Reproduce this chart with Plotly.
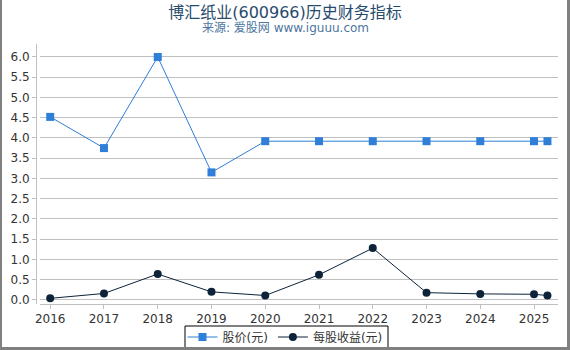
import plotly.graph_objects as go

years = [2016, 2017, 2018, 2019, 2020, 2021, 2022, 2023, 2024, 2025, 2025.25]
tick_years = [2016, 2017, 2018, 2019, 2020, 2021, 2022, 2023, 2024, 2025]
price = [4.52, 3.75, 6.00, 3.15, 3.92, 3.92, 3.92, 3.92, 3.92, 3.92, 3.92]
eps = [0.04, 0.16, 0.64, 0.20, 0.11, 0.62, 1.28, 0.18, 0.15, 0.14, 0.11]
y_ticks = [0.0, 0.5, 1.0, 1.5, 2.0, 2.5, 3.0, 3.5, 4.0, 4.5, 5.0, 5.5, 6.0]

FONT = "DejaVu Sans, Noto Sans CJK SC, sans-serif"

fig = go.Figure()
fig.add_trace(go.Scatter(
    x=years, y=price, name="股价(元)", mode="lines+markers",
    line=dict(color="#2f7ed8", width=1),
    marker=dict(symbol="square", size=8, color="#2f7ed8"),
))
fig.add_trace(go.Scatter(
    x=years, y=eps, name="每股收益(元)", mode="lines+markers",
    line=dict(color="#0d233a", width=1),
    marker=dict(symbol="circle", size=8, color="#0d233a"),
))

L, R, T, B = 36, 12, 44, 46
W, H = 570, 350
pw = W - L - R
ph = H - T - B

def px(x):
    return (x - L) / pw

def py(y):
    return (H - B - y) / ph

fig.update_layout(
    width=W, height=H,
    margin=dict(l=L, r=R, t=T, b=B, autoexpand=False),
    paper_bgcolor="white", plot_bgcolor="white",
    font=dict(family=FONT, size=12, color="#333333"),
    title=dict(text="博汇纸业(600966)历史财务指标", x=0.5, xref="container",
               y=1 - 12 / H, yref="container", yanchor="middle", xanchor="center",
               font=dict(size=16, color="#274b6d", family=FONT)),
    showlegend=True,
    legend=dict(orientation="h", x=px(285), xanchor="center", y=py(337), yanchor="middle",
                borderwidth=0, bgcolor="rgba(0,0,0,0)",
                font=dict(size=12, color="#333333"), itemwidth=30,
                tracegroupgap=0),
    xaxis=dict(domain=[4 / pw, 1], range=[2015.81, 2025.446],
               tickvals=tick_years, ticktext=[str(y) for y in tick_years],
               showgrid=False, zeroline=False, showline=True, linecolor="#c0c0c0",
               linewidth=1, ticks="outside", ticklen=4, tickcolor="#c0c0c0",
               tickfont=dict(size=12, color="#333333")),
    yaxis=dict(range=[-0.1, 6.32], tickvals=y_ticks, ticktext=[f"{v:.1f}" for v in y_ticks],
               anchor="free", position=0,
               showgrid=True, gridcolor="#c0c0c0", gridwidth=1, zeroline=False,
               showline=True, linecolor="#c0c0c0", linewidth=1,
               ticks="outside", ticklen=4, tickcolor="#c0c0c0",
               tickfont=dict(size=12, color="#333333")),
    annotations=[dict(text="来源: 爱股网 www.iguuu.com", xref="paper", yref="paper",
                      x=px(285), y=py(28), xanchor="center", yanchor="middle",
                      showarrow=False, font=dict(size=12, color="#4d759e", family=FONT))],
    shapes=[
        dict(type="rect", xref="paper", yref="paper", x0=px(185), x1=px(388), y0=py(348), y1=py(326),
             fillcolor="rgba(0,0,0,0)", line=dict(width=1, color="#000000"), layer="below"),
        dict(type="rect", xref="paper", yref="paper", x0=px(0), x1=px(2), y0=py(350), y1=py(0),
             fillcolor="#808080", line=dict(width=0), layer="above"),
        dict(type="rect", xref="paper", yref="paper", x0=px(567), x1=px(570), y0=py(350), y1=py(0),
             fillcolor="#808080", line=dict(width=0), layer="above"),
        dict(type="rect", xref="paper", yref="paper", x0=px(0), x1=px(570), y0=py(350), y1=py(347),
             fillcolor="#808080", line=dict(width=0), layer="above"),
    ],
)

fig.write_html("out.html")
